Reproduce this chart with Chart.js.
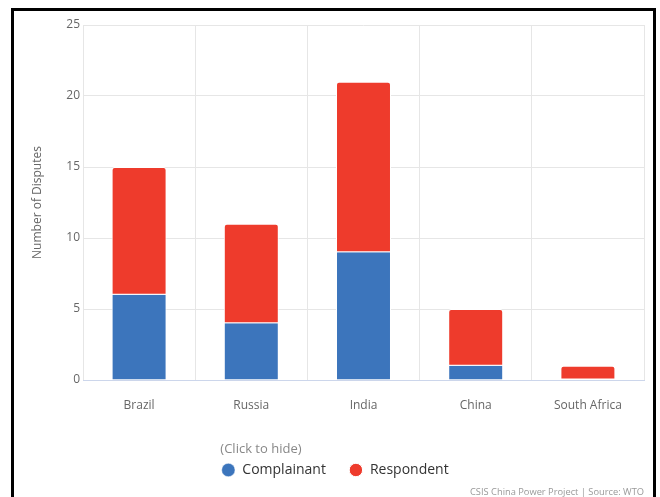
<!DOCTYPE html>
<html>
<head>
<meta charset="utf-8">
<script src="https://cdn.jsdelivr.net/npm/chart.js@4"></script>
<style>
  body { margin: 0; background: #fff; }
  #wrap { position: relative; width: 660px; height: 497px; overflow: hidden; }
  #frame {
    position: absolute; left: 11px; top: 8px; width: 639px; height: 600px;
    border: 3px solid #000; pointer-events: none;
  }
</style>
</head>
<body>
<div id="wrap">
  <canvas id="myChart"></canvas>
  <div id="frame"></div>
</div>
<script>
var countries = ["Brazil", "Russia", "India", "China", "South Africa"];
var complainant = [6, 4, 9, 1, 0];
var respondent = [9, 7, 12, 4, 1];
var yTicks = [0, 5, 10, 15, 20, 25];

var ctx = document.getElementById("myChart");

// hint above the legend items and the footer line in the corner
var extras = {
    id: "extras",
    afterDraw: function (chart) {
        var c = chart.ctx;
        var boxes = chart.legend.legendHitBoxes;
        c.save();
        c.font = "13px 'Open Sans'";
        c.fillStyle = "#888888";
        c.textAlign = "left";
        c.textBaseline = "middle";
        c.fillText("(Click to hide)", boxes[0].left - 1, 449);
        c.font = "9.3px 'Open Sans'";
        c.fillStyle = "#999999";
        c.textAlign = "right";
        c.fillText("CSIS China Power Project | Source: WTO", 644, 492);
        c.restore();
    }
};

var myChart = new Chart(ctx, {
    type: "bar",
    data: {
        labels: countries,
        datasets: [
            {
                label: "Complainant",
                data: complainant,
                backgroundColor: "#3C75BC",
                borderColor: "#ffffff",
                borderWidth: { left: 1, right: 1, top: 0, bottom: 0 },
                borderSkipped: false,
                borderRadius: 0
            },
            {
                label: "Respondent",
                data: respondent,
                backgroundColor: "#EE3B2C",
                borderColor: "#ffffff",
                borderWidth: 1,
                borderSkipped: false,
                borderRadius: { topLeft: 3, topRight: 3, bottomLeft: 0, bottomRight: 0 }
            }
        ]
    },
    options: {
        responsive: true,
        maintainAspectRatio: false,
        animation: false,
        devicePixelRatio: 1,
        datasets: {
            bar: { barPercentage: 0.49, categoryPercentage: 1 }
        },
        layout: {
            padding: { left: 26, right: 16, top: 25, bottom: 10 }
        },
        scales: {
            x: {
                stacked: true,
                grid: { color: "#e6e6e6", drawTicks: false, offset: true },
                border: { color: "#ccd6eb" },
                ticks: {
                    color: "#666666",
                    font: { family: "Open Sans", size: 12 },
                    padding: 18,
                    maxRotation: 0
                },
                afterFit: function (scale) { scale.height = 60; }
            },
            y: {
                stacked: true,
                min: 0,
                max: 25,
                afterBuildTicks: function (scale) {
                    scale.ticks = yTicks.map(function (v) { return { value: v }; });
                },
                grid: { color: "#e6e6e6", drawTicks: false },
                border: { display: false },
                ticks: {
                    color: "#666666",
                    font: { family: "Open Sans", size: 12 },
                    padding: 3
                },
                title: {
                    display: true,
                    text: "Number of Disputes",
                    color: "#666666",
                    font: { family: "Open Sans", size: 12 },
                    padding: 4
                },
                afterFit: function (scale) { scale.width = 57; }
            }
        },
        plugins: {
            legend: {
                position: "bottom",
                labels: {
                    usePointStyle: true,
                    pointStyle: "circle",
                    boxWidth: 14,
                    boxHeight: 9.5,
                    padding: 23,
                    color: "#333333",
                    font: { family: "Open Sans", size: 14 }
                }
            },
            tooltip: { enabled: false }
        }
    },
    plugins: [extras]
});
</script>
</body>
</html>
